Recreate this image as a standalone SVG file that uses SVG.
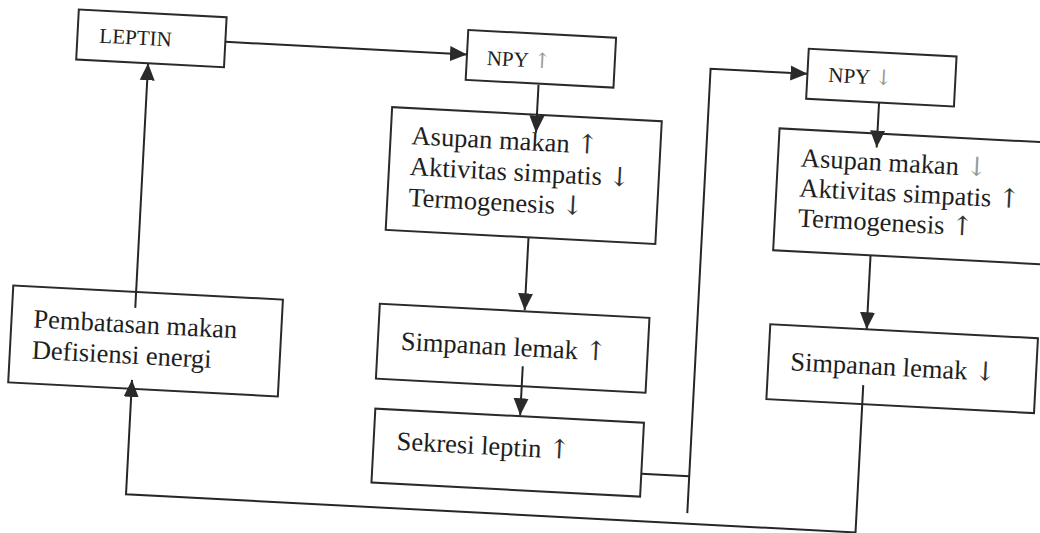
<svg xmlns="http://www.w3.org/2000/svg" width="1040" height="533" viewBox="0 0 1040 533">
<style>
.box{fill:#fff;stroke:#2a2a2a;stroke-width:2}
.t{font-family:"Liberation Serif","Times New Roman",serif;font-size:26.5px;fill:#1e1e1e}
.s{font-size:21px}
.ar{font-family:"DejaVu Serif","DejaVu Sans",serif;font-weight:normal;fill:#333}
.ln{fill:none;stroke:#262626;stroke-width:2}
.lt{fill:#9a9a9a}
</style>
<defs>
<marker id="ah" markerUnits="userSpaceOnUse" markerWidth="18" markerHeight="16" refX="17" refY="8" orient="auto">
<path d="M0,0.5 L17,8 L0,15.5 z" fill="#2a2a2a"/>
</marker>
</defs>
<rect width="1040" height="533" fill="#fff"/>
<g transform="rotate(3 520 266)">
<g id="leptin">
<rect class="box" x="66" y="33" width="148" height="50"/>
<text class="t s" x="88" y="65">LEPTIN</text>
</g>
<g id="npy-up">
<rect class="box" x="456" y="33" width="148" height="50"/>
<text class="t s" x="476" y="67">NPY <tspan class="ar lt">↑</tspan></text>
</g>
<g id="npy-down">
<rect class="box" x="797" y="34" width="148" height="50"/>
<text class="t s" x="818" y="66">NPY <tspan class="ar lt">↓</tspan></text>
</g>
<g id="asupan-up">
<rect class="box" x="384" y="114" width="270" height="123"/>
<text class="t" x="405" y="150">Asupan makan <tspan class="ar">↑</tspan></text>
<text class="t" x="405" y="181">Aktivitas simpatis <tspan class="ar">↓</tspan></text>
<text class="t" x="405" y="212">Termogenesis <tspan class="ar">↓</tspan></text>
</g>
<g id="asupan-down">
<rect class="box" x="772" y="115" width="274" height="122"/>
<text class="t" x="795" y="152">Asupan makan <tspan class="ar lt">↓</tspan></text>
<text class="t" x="795" y="182">Aktivitas simpatis <tspan class="ar">↑</tspan></text>
<text class="t" x="795" y="212">Termogenesis <tspan class="ar">↑</tspan></text>
</g>
<g id="simpanan-up">
<rect class="box" x="382" y="311" width="270" height="75"/>
<text class="t" x="405" y="356">Simpanan lemak <tspan class="ar">↑</tspan></text>
</g>
<g id="simpanan-down">
<rect class="box" x="773" y="311" width="268" height="75"/>
<text class="t" x="795" y="356">Simpanan lemak <tspan class="ar">↓</tspan></text>
</g>
<g id="sekresi">
<rect class="box" x="383" y="416" width="269" height="74"/>
<text class="t" x="406" y="456">Sekresi leptin <tspan class="ar">↑</tspan></text>
</g>
<g id="pembatasan">
<rect class="box" x="15" y="312" width="270" height="97"/>
<text class="t" x="37" y="353">Pembatasan makan</text>
<text class="t" x="37" y="384">Defisiensi energi</text>
</g>
<g id="connectors">
<path class="ln" d="M214 57.5 H456" marker-end="url(#ah)"/>
<path class="ln" d="M529 84 V132" marker-end="url(#ah)"/>
<path class="ln" d="M527 237 V310" marker-end="url(#ah)"/>
<path class="ln" d="M528 366 V415" marker-end="url(#ah)"/>
<path class="ln" d="M652 467 H700"/>
<path class="ln" d="M700 504 V59 H797" marker-end="url(#ah)"/>
<path class="ln" d="M870 84 V129" marker-end="url(#ah)"/>
<path class="ln" d="M869.5 237 V311" marker-end="url(#ah)"/>
<path class="ln" d="M869 367 V514.5 H138.5 V400" marker-end="url(#ah)"/>
<path class="ln" d="M138 328 V83" marker-end="url(#ah)"/>
</g>
</g>
</svg>
